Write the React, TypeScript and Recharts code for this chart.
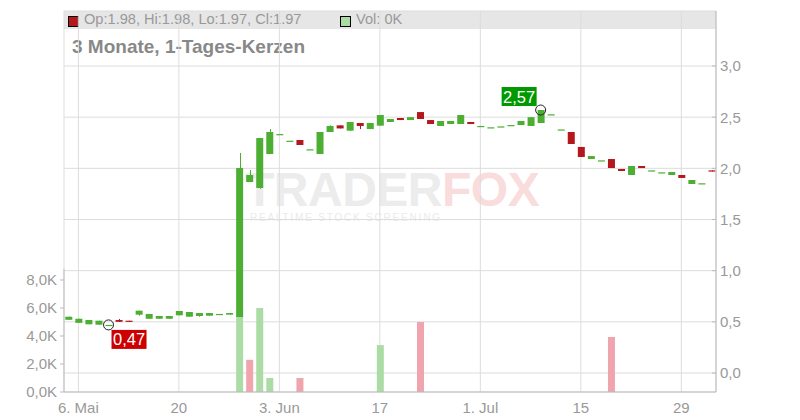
import { ComposedChart, Bar, XAxis, YAxis, CartesianGrid, Cell, ReferenceDot, ReferenceLine } from "recharts"

// one entry per trading day, 3 May .. 1 Aug
const opens = [
  0.52, 0.49, 0.476, 0.472, 0.47, 0.518, 0.511, 0.57, 0.53, 0.53,
  0.53, 0.564, 0.55, 0.557, 0.56, 0.57, 0.57, 0.547, 1.866, 1.808,
  2.14, 2.33, 2.27, 2.277, 2.186, 2.14, 2.355, 2.42, 2.368, 2.443,
  2.384, 2.417, 2.453, 2.492, 2.472, 2.55, 2.472, 2.414, 2.433, 2.433,
  2.453, 2.414, 2.401, 2.41, 2.423, 2.423, 2.414, 2.443, 2.528, 2.38,
  2.355, 2.209, 2.091, 2.078, 2.091, 1.994, 1.935, 2.023, 1.98, 1.961,
  1.935, 1.935, 1.847, 1.854, 1.98,
]
const highs = [
  0.55, 0.53, 0.518, 0.511, 0.47, 0.528, 0.511, 0.609, 0.577, 0.557,
  0.557, 0.606, 0.596, 0.586, 0.586, 0.577, 0.586, 2.15, 1.984, 2.296,
  2.384, 2.335, 2.27, 2.277, 2.186, 2.355, 2.42, 2.42, 2.453, 2.443,
  2.443, 2.521, 2.482, 2.492, 2.5, 2.55, 2.472, 2.463, 2.463, 2.521,
  2.453, 2.414, 2.401, 2.41, 2.423, 2.463, 2.5, 2.57, 2.528, 2.38,
  2.355, 2.209, 2.12, 2.078, 2.091, 1.994, 2.023, 2.023, 1.98, 1.961,
  1.964, 1.935, 1.886, 1.854, 1.98,
]
const lows = [
  0.52, 0.49, 0.476, 0.472, 0.47, 0.5, 0.5, 0.56, 0.53, 0.53,
  0.53, 0.564, 0.55, 0.55, 0.56, 0.57, 0.57, 0.547, 1.866, 1.8,
  2.14, 2.33, 2.27, 2.228, 2.186, 2.14, 2.355, 2.39, 2.368, 2.384,
  2.384, 2.417, 2.453, 2.472, 2.472, 2.482, 2.433, 2.414, 2.433, 2.433,
  2.433, 2.414, 2.401, 2.41, 2.423, 2.423, 2.414, 2.443, 2.528, 2.38,
  2.238, 2.111, 2.091, 2.078, 2.003, 1.974, 1.935, 2.003, 1.98, 1.961,
  1.935, 1.906, 1.847, 1.854, 1.97,
]
const closes = [
  0.55, 0.53, 0.518, 0.511, 0.47, 0.5, 0.5, 0.609, 0.577, 0.557,
  0.557, 0.606, 0.596, 0.586, 0.586, 0.577, 0.586, 2.003, 1.935, 2.296,
  2.355, 2.335, 2.27, 2.228, 2.186, 2.355, 2.414, 2.39, 2.453, 2.414,
  2.443, 2.521, 2.482, 2.472, 2.5, 2.482, 2.433, 2.463, 2.463, 2.521,
  2.433, 2.414, 2.401, 2.41, 2.423, 2.463, 2.5, 2.57, 2.528, 2.38,
  2.238, 2.111, 2.12, 2.078, 2.003, 1.974, 2.023, 2.003, 1.98, 1.961,
  1.964, 1.906, 1.886, 1.854, 1.97,
]
// volume in thousands
const volumes = [
  0, 0, 0, 0, 0, 0, 0, 0, 0, 0,
  0, 0, 0, 0, 0, 0, 0, 5.4, 2.3, 6.0,
  1.0, 0, 0, 1.0, 0, 0, 0, 0, 0, 0,
  0, 3.35, 0, 0, 0, 5.0, 0, 0, 0, 0,
  0, 0, 0, 0, 0, 0, 0, 0, 0, 0,
  0, 0, 0, 0, 3.93, 0, 0, 0, 0, 0,
  0, 0, 0, 0, 0,
]
const dateTicks = [1, 11, 21, 31, 41, 51, 61]
const dateLabels = ["6. Mai", "20", "3. Jun", "17", "1. Jul", "15", "29"]
const priceTicks = [0, 0.5, 1, 1.5, 2, 2.5, 3]
const volTicks = [0, 2, 4, 6, 8]

const GREEN = "#4cae33"
const RED = "#b3181c"
const VOL_GREEN = "#acdca6"
const VOL_RED = "#f0a5ae"
const FONT = "'Liberation Sans', Arial, sans-serif"
const X_DOMAIN: [number, number] = [-0.43, 64.45]

const data = opens.map((o, i) => ({
  i,
  o,
  h: highs[i],
  l: lows[i],
  c: closes[i],
  vol: volumes[i],
  up: i === 0 || closes[i] >= closes[i - 1],
}))

function Candle(props: any) {
  const { x, y, width, height, payload } = props
  const { o, h, l, c } = payload
  const span = h - l
  const yOf = (v: number) => (span > 0 ? y + ((h - v) / span) * height : y)
  const top = yOf(Math.max(o, c))
  const bot = yOf(Math.min(o, c))
  const color = c >= o ? GREEN : RED
  const cx = Math.round(x + width / 2) + 0.5
  return (
    <g>
      {span > 0 && <line x1={cx} x2={cx} y1={y} y2={y + height} stroke={color} strokeWidth={1} />}
      <rect x={x} y={top} width={width} height={Math.max(bot - top, 1.2)} fill={color} />
    </g>
  )
}

const fmtPrice = (v: number) => v.toFixed(1).replace(".", ",")
const fmtVol = (v: number) => v.toFixed(1).replace(".", ",") + "K"

function DateTick(props: any) {
  const { x, y, payload } = props
  const label = dateLabels[dateTicks.indexOf(payload.value)] ?? ""
  return (
    <text x={x} y={y + 13} textAnchor="middle" fontSize={15} fill="#999" fontFamily={FONT}>
      {label}
    </text>
  )
}

function LowMark(props: any) {
  const { cx, cy } = props
  return (
    <g>
      <rect x={cx + 3} y={cy + 5} width={35} height={19} fill="#cc0000" />
      <text x={cx + 20.5} y={cy + 20.5} fill="#fff" fontSize={16.5} textAnchor="middle" fontFamily={FONT}>0,47</text>
      <circle cx={cx} cy={cy} r={5} fill="none" stroke="#222" strokeWidth={1} />
    </g>
  )
}

function HighMark(props: any) {
  const { cx, cy } = props
  return (
    <g>
      <rect x={cx - 39} y={cy - 23} width={35} height={19} fill="#009900" />
      <text x={cx - 21.5} y={cy - 7.5} fill="#fff" fontSize={16.5} textAnchor="middle" fontFamily={FONT}>2,57</text>
      <circle cx={cx} cy={cy} r={5} fill="none" stroke="#222" strokeWidth={1} />
    </g>
  )
}

const axisTick = { fontSize: 15, fill: "#999", fontFamily: FONT }

export default function App() {
  return (
    <div style={{ position: "absolute", left: 0, top: 0, width: 800, height: 420, fontFamily: FONT, background: "#fff" }}>
      <div style={{ position: "absolute", left: 64, top: 11, width: 652, height: 18, background: "#e6e6e6" }} />
      <div style={{ position: "absolute", left: 68, top: 16, width: 9, height: 9, background: RED, border: "1px solid #000" }} />
      <div style={{ position: "absolute", left: 84, top: 11, fontSize: 14.6, color: "#999", whiteSpace: "nowrap" }}>
        Op:1.98, Hi:1.98, Lo:1.97, Cl:1.97
      </div>
      <div style={{ position: "absolute", left: 340, top: 16, width: 9, height: 9, background: VOL_GREEN, border: "1px solid #000" }} />
      <div style={{ position: "absolute", left: 356, top: 11, fontSize: 14.6, color: "#999", whiteSpace: "nowrap" }}>Vol: 0K</div>
      <div style={{ position: "absolute", left: 72, top: 36, fontSize: 19, fontWeight: "bold", color: "#888", whiteSpace: "nowrap" }}>
        3 Monate, 1-Tages-Kerzen
      </div>
      <div style={{ position: "absolute", left: 245, top: 170, height: 40, lineHeight: "40px", fontSize: 48, fontWeight: "bold", whiteSpace: "nowrap", letterSpacing: -0.5 }}>
        <span style={{ color: "#ececec" }}>TRADER</span>
        <span style={{ color: "#f9dcdc" }}>FOX</span>
      </div>
      <div style={{ position: "absolute", left: 250, top: 212, lineHeight: "12px", fontSize: 10, letterSpacing: 1.8, color: "#eaeaea", whiteSpace: "nowrap" }}>
        REALTIME STOCK SCREENING
      </div>
      <div style={{ position: "absolute", left: 0, top: 0 }}>
        <ComposedChart width={800} height={420} data={data} margin={{ top: 11, right: 0, bottom: 0, left: 0 }}>
          <CartesianGrid xAxisId="x" yAxisId="p" stroke="#ddd" strokeWidth={1} />
          <XAxis
            xAxisId="x"
            type="number"
            dataKey="i"
            domain={X_DOMAIN}
            allowDataOverflow
            ticks={dateTicks}
            tickLine={false}
            axisLine={{ stroke: "#bbb" }}
            height={28}
            tick={<DateTick />}
          />
          <XAxis xAxisId="vx" orientation="top" height={0} type="number" dataKey="i" domain={X_DOMAIN} allowDataOverflow hide />
          <YAxis
            yAxisId="v"
            orientation="left"
            width={64}
            domain={[0, 27.21]}
            allowDataOverflow
            ticks={volTicks}
            tickFormatter={fmtVol}
            axisLine={false}
            tickLine={{ stroke: "#bbb" }}
            tickSize={4}
            tickMargin={3}
            tick={axisTick}
          />
          <YAxis
            yAxisId="p"
            orientation="right"
            width={84}
            domain={[-0.1857, 3.5376]}
            allowDataOverflow
            ticks={priceTicks}
            tickFormatter={fmtPrice}
            axisLine={{ stroke: "#bbb" }}
            tickLine={{ stroke: "#bbb" }}
            tickSize={-4}
            tickMargin={8}
            tick={axisTick}
          />
          <ReferenceLine
            xAxisId="x"
            yAxisId="v"
            segment={[{ x: X_DOMAIN[0], y: 0 }, { x: X_DOMAIN[0], y: 8.8 }]}
            stroke="#bbb"
            ifOverflow="visible"
          />
          <Bar xAxisId="vx" yAxisId="v" dataKey="vol" barSize={7} isAnimationActive={false}>
            {data.map((d) => (
              <Cell key={d.i} fill={d.up ? VOL_GREEN : VOL_RED} />
            ))}
          </Bar>
          <Bar
            xAxisId="x"
            yAxisId="p"
            dataKey={(d: any) => [d.l, d.h]}
            barSize={7}
            shape={Candle}
            isAnimationActive={false}
          />
          <ReferenceDot xAxisId="x" yAxisId="p" x={4} y={0.47} r={5} shape={LowMark} ifOverflow="visible" />
          <ReferenceDot xAxisId="x" yAxisId="p" x={47} y={2.57} r={5} shape={HighMark} ifOverflow="visible" />
        </ComposedChart>
      </div>
    </div>
  )
}
